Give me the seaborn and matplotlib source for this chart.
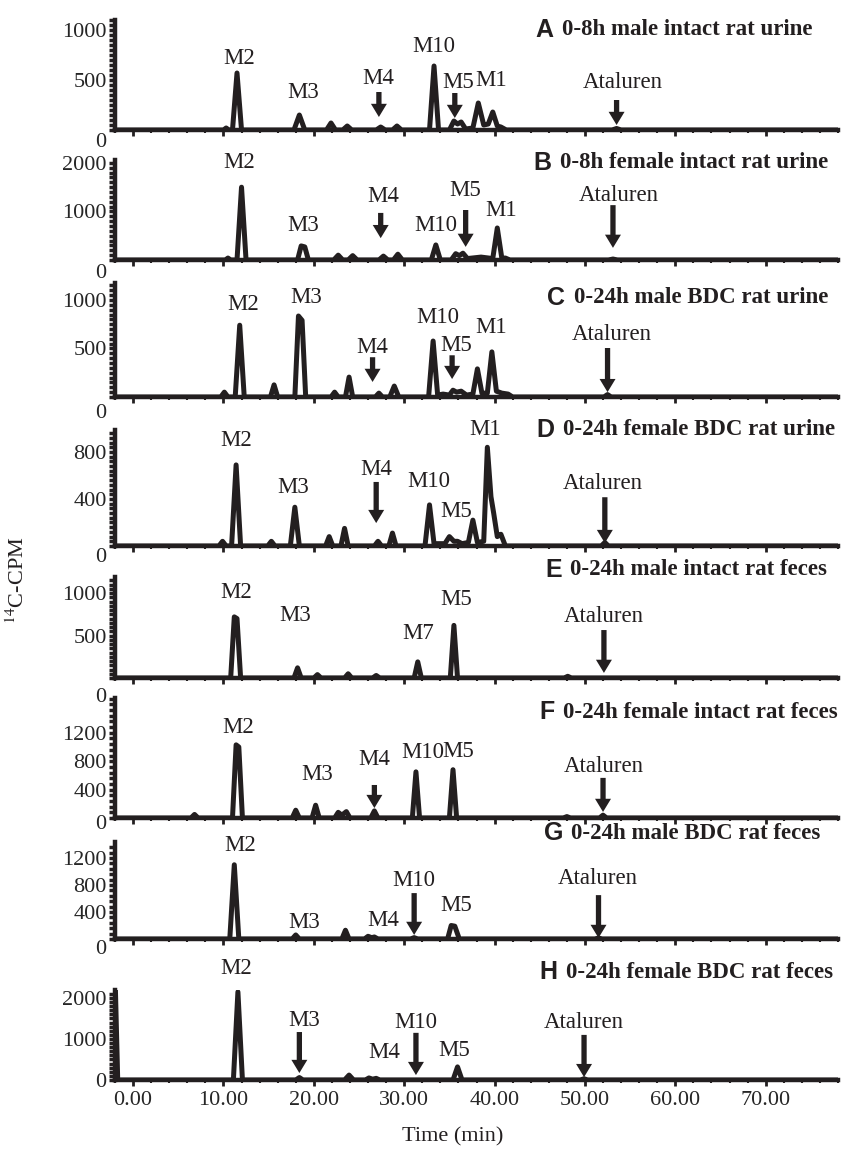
import pandas as pd
import seaborn as sns
from matplotlib import pyplot as plt
import matplotlib.ticker as mtick
from matplotlib.transforms import ScaledTranslation

# radiochromatogram traces, (time in min, 14C-CPM)
trace_A = [(-2, 0), (10.0, 0), (10.3, 20), (10.6, 0), (11.0, 0), (11.5, 570), (12.0, 0),
           (17.8, 0), (18.4, 150), (19.0, 0), (21.4, 0), (21.9, 70), (22.4, 0), (23.2, 0), (23.7, 40), (24.2, 0),
           (26.9, 0), (27.4, 30), (27.9, 0), (28.7, 0), (29.2, 40), (29.7, 0), (32.8, 0), (33.3, 640), (33.8, 0),
           (35.0, 0), (35.5, 90), (35.9, 60), (36.3, 80), (36.8, 10), (37.6, 20), (38.2, 270), (38.8, 50),
           (39.3, 60), (39.8, 180), (40.3, 40), (40.7, 30), (41.3, 0), (53.0, 0), (53.5, 15), (54.0, 0), (78, 0)]
trace_B = [(-2, 0), (10.2, 0), (10.5, 40), (10.8, 0), (11.5, 0), (12.0, 1500), (12.5, 0),
           (18.2, 0), (18.6, 290), (19.0, 270), (19.4, 0), (22.2, 0), (22.7, 100), (23.2, 0), (23.8, 0), (24.3, 90),
           (24.8, 0), (27.2, 0), (27.7, 80), (28.2, 0), (28.8, 0), (29.3, 120), (29.8, 0), (33.0, 0), (33.5, 310),
           (34.0, 0), (35.2, 0), (35.7, 130), (36.1, 90), (36.5, 140), (37.0, 30), (38.5, 60), (39.8, 30),
           (40.3, 660), (40.8, 40), (41.2, 40), (41.7, 0), (52.6, 0), (53.1, 20), (53.6, 0), (78, 0)]
trace_C = [(-2, 0), (9.7, 0), (10.1, 50), (10.5, 0), (11.3, 0), (11.8, 740), (12.3, 0),
           (15.2, 0), (15.6, 125), (16.0, 0), (17.9, 0), (18.3, 835), (18.7, 790), (19.1, 0),
           (21.9, 0), (22.3, 50), (22.7, 0), (23.5, 0), (23.9, 205), (24.3, 0), (26.8, 0), (27.2, 40), (27.6, 0),
           (28.4, 0), (28.9, 113), (29.4, 0), (32.7, 0), (33.2, 577), (33.7, 20), (34.3, 30), (35.0, 20),
           (35.4, 70), (35.8, 50), (36.3, 60), (36.9, 20), (37.6, 30), (38.1, 290), (38.6, 40), (39.2, 40),
           (39.7, 465), (40.2, 60), (40.8, 40), (41.5, 30), (42.0, 0), (52.1, 0), (52.5, 25), (52.9, 0), (78, 0)]
trace_D = [(-2, 0), (9.5, 0), (9.9, 40), (10.3, 0), (10.9, 0), (11.4, 690), (11.9, 0),
           (14.9, 0), (15.3, 40), (15.7, 0), (17.4, 0), (17.9, 330), (18.4, 0), (21.3, 0), (21.7, 80), (22.1, 0),
           (23.0, 0), (23.4, 150), (23.8, 0), (26.7, 0), (27.1, 40), (27.5, 0), (28.3, 0), (28.7, 110), (29.1, 0),
           (32.3, 0), (32.8, 350), (33.3, 20), (34.5, 20), (35.0, 80), (35.5, 40), (35.9, 40), (36.4, 20),
           (37.1, 30), (37.6, 220), (38.1, 30), (38.8, 40), (39.2, 840), (39.6, 420), (39.9, 280), (40.3, 80),
           (40.7, 100), (41.2, 0), (51.8, 0), (52.2, 30), (52.6, 0), (78, 0)]
trace_E = [(-2, 0), (10.8, 0), (11.2, 720), (11.5, 700), (11.9, 0),
           (17.8, 0), (18.2, 120), (18.6, 0), (20.0, 0), (20.4, 40), (20.8, 0), (23.4, 0), (23.8, 50), (24.2, 0),
           (26.5, 0), (26.9, 30), (27.3, 0), (31.1, 0), (31.5, 190), (31.9, 0), (35.1, 0), (35.5, 620), (35.9, 0),
           (47.7, 0), (48.1, 20), (48.5, 0), (78, 0)]
trace_F = [(-2, 0), (6.4, 0), (6.8, 50), (7.2, 0), (11.0, 0), (11.4, 1030), (11.7, 1000), (12.1, 0),
           (17.6, 0), (18.0, 110), (18.4, 0), (19.8, 0), (20.2, 180), (20.6, 0), (22.3, 0), (22.7, 80), (23.1, 40),
           (23.6, 90), (24.0, 0), (26.3, 0), (26.7, 100), (27.1, 0), (30.9, 0), (31.3, 650), (31.7, 0),
           (35.0, 0), (35.4, 680), (35.8, 0), (47.6, 0), (48.0, 20), (48.4, 0), (51.6, 0), (52.0, 40), (52.4, 0),
           (78, 0)]
trace_G = [(-2, 0), (10.7, 0), (11.2, 1100), (11.7, 0), (17.6, 0), (18.0, 60), (18.4, 0),
           (23.1, 0), (23.5, 130), (23.9, 0), (25.6, 0), (26.0, 40), (26.4, 20), (26.7, 30), (27.1, 0),
           (30.7, 0), (31.1, 20), (31.5, 0), (34.8, 0), (35.2, 200), (35.6, 190), (36.1, 0),
           (51.1, 0), (51.5, 15), (51.9, 0), (78, 0)]
trace_H = [(-2, 2600), (-1.7, 0), (11.1, 0), (11.6, 2150), (12.1, 0), (18.0, 0), (18.4, 60), (18.8, 0),
           (23.4, 0), (23.9, 120), (24.4, 0), (25.7, 0), (26.1, 50), (26.5, 20), (26.9, 40), (27.3, 0),
           (35.4, 0), (35.9, 320), (36.4, 0), (49.5, 0), (49.9, 30), (50.3, 0), (78, 0)]

panel_letters = ['A', 'B', 'C', 'D', 'E', 'F', 'G', 'H']
panel_titles = ['0-8h male intact rat urine', '0-8h female intact rat urine',
                '0-24h male BDC rat urine', '0-24h female BDC rat urine',
                '0-24h male intact rat feces', '0-24h female intact rat feces',
                '0-24h male BDC rat feces', '0-24h female BDC rat feces']
y_max = [1100, 2060, 1175, 987, 1190, 1690, 1437, 2195]
y_ticks = [[0, 500, 1000], [0, 1000, 2000], [0, 500, 1000], [0, 400, 800],
           [0, 500, 1000], [0, 400, 800, 1200], [0, 400, 800, 1200], [0, 1000, 2000]]
y_minor = [10, 10, 10, 10, 10, 5, 5, 10]
x_ticks = [0, 10, 20, 30, 40, 50, 60, 70]

# peak labels: (text, time, cpm)
labels_A = [('M2', 11.7, 720), ('M3', 18.8, 370), ('M4', 27.1, 510), ('M10', 33.3, 830),
            ('M5', 36.0, 470), ('M1', 39.6, 490), ('Ataluren', 54.2, 470)]
labels_B = [('M2', 11.7, 2000), ('M3', 18.8, 720), ('M4', 27.7, 1300), ('M10', 33.5, 720),
            ('M5', 36.8, 1440), ('M1', 40.7, 1030), ('Ataluren', 53.7, 1320)]
labels_C = [('M2', 12.2, 950), ('M3', 19.1, 1030), ('M4', 26.5, 515), ('M10', 33.7, 815),
            ('M5', 35.7, 535), ('M1', 39.6, 720), ('Ataluren', 53.0, 640)]
labels_D = [('M2', 11.4, 900), ('M3', 17.7, 500), ('M4', 26.9, 650), ('M10', 32.7, 550),
            ('M5', 35.7, 290), ('M1', 39.0, 990), ('Ataluren', 52.0, 535)]
labels_E = [('M2', 11.4, 1010), ('M3', 17.9, 740), ('M7', 31.6, 520), ('M5', 35.7, 920),
            ('Ataluren', 52.1, 720)]
labels_F = [('M2', 11.6, 1270), ('M3', 20.4, 610), ('M4', 26.7, 820), ('M10', 32.1, 920),
            ('M5', 36.0, 930), ('Ataluren', 52.1, 720)]
labels_G = [('M2', 11.9, 1390), ('M3', 18.9, 240), ('M4', 27.7, 280), ('M10', 31.1, 870),
            ('M5', 35.7, 490), ('Ataluren', 51.4, 900)]
labels_H = [('M2', 11.4, 2730), ('M3', 18.9, 1460), ('M4', 27.8, 660), ('M10', 31.3, 1410),
            ('M5', 35.5, 710), ('Ataluren', 49.9, 1410)]

# arrows: (time, tail cpm, tip cpm)
arrows_A = [(27.2, 380, 130), (35.6, 370, 120), (53.5, 300, 50)]
arrows_B = [(27.4, 970, 450), (36.8, 1030, 270), (53.1, 1130, 250)]
arrows_C = [(26.5, 410, 155), (35.3, 430, 185), (52.5, 505, 50)]
arrows_D = [(26.9, 545, 195), (52.2, 415, 25)]
arrows_E = [(52.1, 565, 60)]
arrows_F = [(26.7, 465, 140), (52.0, 565, 85)]
arrows_G = [(31.1, 680, 60), (51.5, 650, 15)]
arrows_H = [(18.4, 1170, 170), (31.3, 1150, 120), (49.9, 1100, 70)]

traces = [trace_A, trace_B, trace_C, trace_D, trace_E, trace_F, trace_G, trace_H]
labels = [labels_A, labels_B, labels_C, labels_D, labels_E, labels_F, labels_G, labels_H]
arrows = [arrows_A, arrows_B, arrows_C, arrows_D, arrows_E, arrows_F, arrows_G, arrows_H]

# layout (pixels): panel top / baseline, title anchor in axes fraction,
# and how far the "0" tick label sits below the baseline in the scan
panel_px = [(20, 130), (160, 260), (283, 397), (430, 546), (577, 678), (698, 818), (842, 939), (990, 1080)]
title_pos = [(0.965, 0.91), (0.986, 0.97), (0.986, 0.87), (0.996, 1.0),
             (0.985, 1.07), (1.0, 0.88), (0.976, 1.09), (0.993, 1.2)]
zero_drop_px = [10, 11, 14, 9, 17, 4, 8, 0]

sns.set_style('ticks')
plt.rcParams['font.family'] = ['Liberation Serif', 'DejaVu Serif']
plt.rcParams['mathtext.fontset'] = 'stix'
ink = '#231f20'

W, H = 847, 1149
left_px, right_px = 115, 838
fig = plt.figure(figsize=(W / 100, H / 100), dpi=100)

for i in range(8):
    top, base = panel_px[i]
    ax = fig.add_axes([left_px / W, 1 - base / H, (right_px - left_px) / W, (base - top) / H])
    df = pd.DataFrame(traces[i], columns=['time', 'cpm'])
    sns.lineplot(data=df, x='time', y='cpm', ax=ax, color=ink, linewidth=3.6,
                 estimator=None, sort=False, solid_joinstyle='round')
    ax.set_xlim(-2, 78)
    ax.set_ylim(0, y_max[i])
    ax.set_xlabel('')
    ax.set_ylabel('')

    ax.set_yticks(y_ticks[i])
    ax.yaxis.set_minor_locator(mtick.AutoMinorLocator(y_minor[i]))
    ax.set_xticks(x_ticks)
    ax.xaxis.set_minor_locator(mtick.MultipleLocator(2))
    ax.xaxis.set_major_formatter(mtick.FormatStrFormatter('%.2f'))
    ax.tick_params(axis='y', which='both', direction='out', length=4, width=2.5,
                   color=ink, labelsize=16, pad=2)
    ax.tick_params(axis='x', which='major', direction='out', length=4, width=2,
                   color=ink, labelsize=16, pad=4)
    ax.tick_params(axis='x', which='minor', direction='out', length=2, width=1.5, color=ink)
    if i < 7:
        ax.tick_params(axis='x', labelbottom=False)
    sns.despine(ax=ax)
    for side in ['left', 'bottom']:
        ax.spines[side].set_linewidth(3.2)
        ax.spines[side].set_color(ink)

    zero_label = ax.yaxis.get_major_ticks()[0].label1
    zero_label.set_transform(zero_label.get_transform()
                             + ScaledTranslation(0, -zero_drop_px[i] / 100, fig.dpi_scale_trans))

    for text, t, y in labels[i]:
        ax.text(t, y, text, ha='center', va='center', fontsize=16.5, color=ink, clip_on=False)
    for t, tail, tip in arrows[i]:
        ax.annotate('', xy=(t, tip), xytext=(t, tail),
                    arrowprops=dict(facecolor=ink, edgecolor='none', width=3.8,
                                    headwidth=11.5, headlength=9.5, shrink=0))

    tx, ty = title_pos[i]
    title = ax.text(tx, ty, panel_titles[i], transform=ax.transAxes, ha='right', va='center',
                    fontsize=16.5, fontweight='bold', color=ink)
    ax.annotate(panel_letters[i], xy=(0, 0.5), xycoords=title, xytext=(-6, 0),
                textcoords='offset points', ha='right', va='center', fontsize=18,
                fontweight='bold', family='Liberation Sans', color=ink)

fig.text(18 / W, 1 - 580 / H, r'$^{14}$C-CPM', rotation=90, ha='center', va='center',
         fontsize=16, color=ink)
fig.text(453 / W, 1 - 1137 / H, 'Time (min)', ha='center', va='center', fontsize=16, color=ink)

fig.savefig('out.png', dpi=100)
